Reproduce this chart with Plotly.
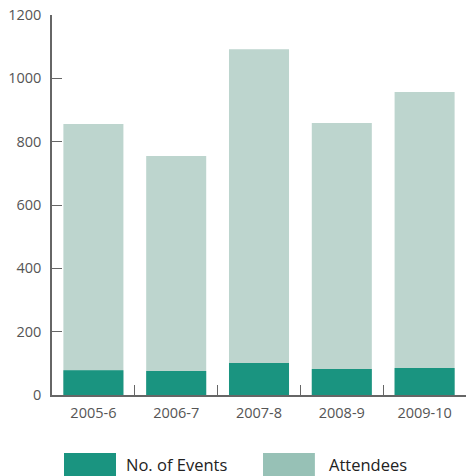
import plotly.graph_objects as go

# Annual programme figures
seasons = ["2005-6", "2006-7", "2007-8", "2008-9", "2009-10"]
events = [78, 76, 101, 82, 85]
attendees = [856, 755, 1092, 859, 957]

events_color = "#1a9480"
attendees_bar_color = "#bdd5ce"
attendees_key_color = "#97c1b6"
axis_color = "#666666"
font_family = "Open Sans, Lato, sans-serif"

fig = go.Figure()
fig.add_trace(go.Bar(x=seasons, y=attendees, name="Attendees",
                     marker=dict(color=attendees_bar_color, line_width=0),
                     width=0.725))
fig.add_trace(go.Bar(x=seasons, y=events, name="No. of Events",
                     marker=dict(color=events_color, line_width=0),
                     width=0.725))

fig.update_layout(
    width=469, height=476,
    margin=dict(l=52, r=3, t=15, b=81),
    barmode="overlay",
    showlegend=False,
    plot_bgcolor="white", paper_bgcolor="white",
    font=dict(family=font_family, color="#555555", size=14.5),
)
fig.update_xaxes(
    type="category", range=[-0.5, 4.5],
    showline=True, linecolor=axis_color, linewidth=1.5,
    ticks="inside", tickson="boundaries", ticklen=10, tickcolor=axis_color,
    tickwidth=1.2, showgrid=False, zeroline=False,
    ticklabelstandoff=4,
)
fig.update_yaxes(
    range=[0, 1200], tickvals=[0, 200, 400, 600, 800, 1000, 1200],
    showline=True, linecolor=axis_color, linewidth=1.5,
    ticks="inside", ticklen=10, tickcolor=axis_color, tickwidth=1.2,
    showgrid=False, zeroline=False,
    ticklabelstandoff=6,
)

# Legend key drawn below the plot
keys = [("No. of Events", events_color, 0.029, 0.1546, 0.1739),
        ("Attendees", attendees_key_color, 0.5097, 0.635, 0.6643)]
for label, color, x0, x1, tx in keys:
    fig.add_shape(type="rect", xref="paper", yref="paper",
                  x0=x0, x1=x1, y0=-0.215, y1=-0.1526,
                  fillcolor=color, line_width=0)
    fig.add_annotation(text=label, xref="paper", yref="paper",
                       x=tx, y=-0.183, xanchor="left", yanchor="middle",
                       showarrow=False,
                       font=dict(size=16.5, color="#222222", family=font_family))

fig.write_html("out.html")
